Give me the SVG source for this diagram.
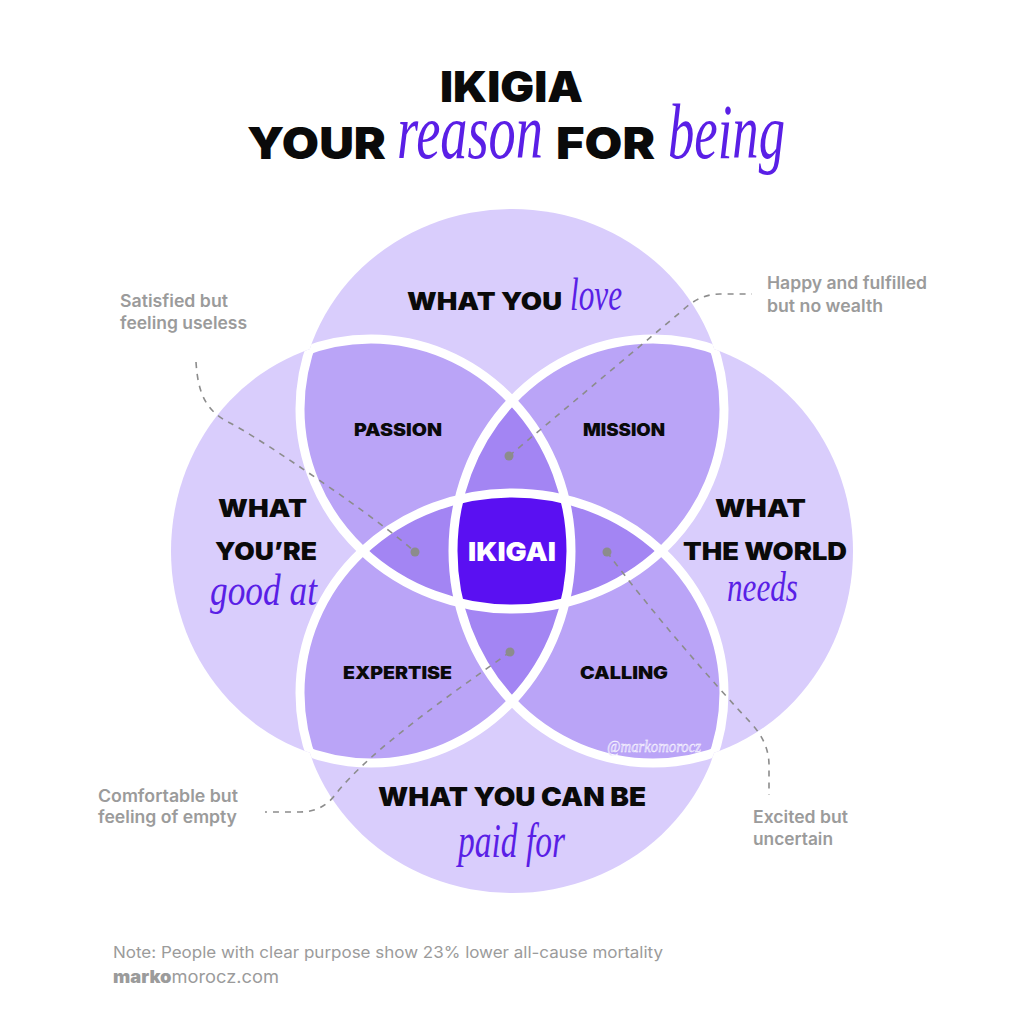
<svg xmlns="http://www.w3.org/2000/svg" width="1024" height="1024" viewBox="0 0 1024 1024">
<defs>
<style>
.h{font-family:Inter,"Liberation Sans",sans-serif;font-weight:900;fill:#0a0a0a}
.s{font-family:"Liberation Serif",serif;font-style:italic;fill:#5a1fe6}
.g{font-family:Inter,"Liberation Sans",sans-serif;font-weight:600;fill:#9b9b9b;font-size:17px}
.c1{fill:#d9cdfc}.c2{fill:#baa4f7}.c3{fill:#a385f3}.c4{fill:#5a10f2}
.w{fill:none;stroke:#fff;stroke-width:9}
.d{fill:none;stroke:#8c8c8c;stroke-width:1.6;stroke-dasharray:6 6}
.dot{fill:#8c8c8c}
</style>
<clipPath id="cT"><ellipse cx="512" cy="409" rx="212" ry="200"/></clipPath>
<clipPath id="cB"><ellipse cx="512" cy="693" rx="212" ry="200"/></clipPath>
<clipPath id="cL"><ellipse cx="371" cy="551" rx="200" ry="212"/></clipPath>
<clipPath id="cR"><ellipse cx="653" cy="551" rx="200" ry="212"/></clipPath>
<clipPath id="xT"><ellipse cx="512" cy="693" rx="212" ry="200"/><ellipse cx="371" cy="551" rx="200" ry="212"/><ellipse cx="653" cy="551" rx="200" ry="212"/></clipPath>
<clipPath id="xB"><ellipse cx="512" cy="409" rx="212" ry="200"/><ellipse cx="371" cy="551" rx="200" ry="212"/><ellipse cx="653" cy="551" rx="200" ry="212"/></clipPath>
<clipPath id="xL"><ellipse cx="512" cy="409" rx="212" ry="200"/><ellipse cx="512" cy="693" rx="212" ry="200"/><ellipse cx="653" cy="551" rx="200" ry="212"/></clipPath>
<clipPath id="xR"><ellipse cx="512" cy="409" rx="212" ry="200"/><ellipse cx="512" cy="693" rx="212" ry="200"/><ellipse cx="371" cy="551" rx="200" ry="212"/></clipPath>
</defs>
<rect width="1024" height="1024" fill="#fff"/>

<g id="title">
<text class="h" x="440" y="102" font-size="42" textLength="143" lengthAdjust="spacingAndGlyphs">IKIGIA</text>
<text class="h" x="247" y="159" font-size="44" textLength="139" lengthAdjust="spacingAndGlyphs">YOUR</text>
<text class="s" x="397" y="158" font-size="78" textLength="146" lengthAdjust="spacingAndGlyphs">reason</text>
<text class="h" x="556" y="159" font-size="44" textLength="99" lengthAdjust="spacingAndGlyphs">FOR</text>
<text class="s" x="668" y="158" font-size="78" textLength="117" lengthAdjust="spacingAndGlyphs">being</text>
</g>

<g id="venn">
<g id="fills1">
<ellipse class="c1" cx="512" cy="409" rx="212" ry="200"/>
<ellipse class="c1" cx="512" cy="693" rx="212" ry="200"/>
<ellipse class="c1" cx="371" cy="551" rx="200" ry="212"/>
<ellipse class="c1" cx="653" cy="551" rx="200" ry="212"/>
</g>
<g id="fills2">
<ellipse class="c2" cx="371" cy="551" rx="200" ry="212" clip-path="url(#cT)"/>
<ellipse class="c2" cx="653" cy="551" rx="200" ry="212" clip-path="url(#cT)"/>
<ellipse class="c2" cx="371" cy="551" rx="200" ry="212" clip-path="url(#cB)"/>
<ellipse class="c2" cx="653" cy="551" rx="200" ry="212" clip-path="url(#cB)"/>
<ellipse class="c2" cx="512" cy="693" rx="212" ry="200" clip-path="url(#cT)"/>
<ellipse class="c2" cx="653" cy="551" rx="200" ry="212" clip-path="url(#cL)"/>
</g>
<g id="fills3">
<g clip-path="url(#cT)"><ellipse class="c3" cx="371" cy="551" rx="200" ry="212" clip-path="url(#cR)"/></g>
<g clip-path="url(#cB)"><ellipse class="c3" cx="371" cy="551" rx="200" ry="212" clip-path="url(#cR)"/></g>
<g clip-path="url(#cT)"><ellipse class="c3" cx="512" cy="693" rx="212" ry="200" clip-path="url(#cL)"/></g>
<g clip-path="url(#cT)"><ellipse class="c3" cx="512" cy="693" rx="212" ry="200" clip-path="url(#cR)"/></g>
</g>
<g id="fill4"><g clip-path="url(#cT)"><g clip-path="url(#cB)"><ellipse class="c4" cx="371" cy="551" rx="200" ry="212" clip-path="url(#cR)"/></g></g></g>
<g id="outlines">
<ellipse class="w" cx="512" cy="409" rx="212" ry="200" clip-path="url(#xT)"/>
<ellipse class="w" cx="512" cy="693" rx="212" ry="200" clip-path="url(#xB)"/>
<ellipse class="w" cx="371" cy="551" rx="200" ry="212" clip-path="url(#xL)"/>
<ellipse class="w" cx="653" cy="551" rx="200" ry="212" clip-path="url(#xR)"/>
</g>
</g>

<g id="connectors">
<path class="d" d="M196,362 C198,394 206,411 230,423 C260,438 380,520 415,552"/>
<path class="d" d="M509,456 L683,310 Q700,294 720,294 L752,294"/>
<path class="d" d="M607,552 C650,610 715,685 750,722 Q769,742 769,765 L769,795"/>
<path class="d" d="M510,652 C450,695 370,750 335,795 Q322,812 300,812 L265,812"/>
<circle class="dot" cx="415" cy="552" r="4.5"/>
<circle class="dot" cx="509" cy="456" r="4.5"/>
<circle class="dot" cx="607" cy="552" r="4.5"/>
<circle class="dot" cx="510" cy="652" r="4.5"/>
</g>

<g id="node-love">
<text class="h" x="407" y="310" font-size="24" textLength="155" lengthAdjust="spacingAndGlyphs">WHAT YOU</text>
<text class="s" x="570" y="310" font-size="46" textLength="52" lengthAdjust="spacingAndGlyphs">love</text>
</g>
<g id="node-good">
<text class="h" x="218" y="517" font-size="24" textLength="89" lengthAdjust="spacingAndGlyphs">WHAT</text>
<text class="h" x="215" y="560" font-size="24" textLength="102" lengthAdjust="spacingAndGlyphs">YOU’RE</text>
<text class="s" x="210" y="605" font-size="44" textLength="107" lengthAdjust="spacingAndGlyphs">good at</text>
</g>
<g id="node-world">
<text class="h" x="715" y="517" font-size="24" textLength="91" lengthAdjust="spacingAndGlyphs">WHAT</text>
<text class="h" x="683" y="560" font-size="24" textLength="164" lengthAdjust="spacingAndGlyphs">THE WORLD</text>
<text class="s" x="727" y="601" font-size="42" textLength="71" lengthAdjust="spacingAndGlyphs">needs</text>
</g>
<g id="node-paid">
<text class="h" x="378" y="806" font-size="26" textLength="268" lengthAdjust="spacingAndGlyphs">WHAT YOU CAN BE</text>
<text class="s" x="458" y="857" font-size="48" textLength="107" lengthAdjust="spacingAndGlyphs">paid for</text>
</g>
<g id="node-passion"><text class="h" x="354" y="436" font-size="17" textLength="88" lengthAdjust="spacingAndGlyphs">PASSION</text></g>
<g id="node-mission"><text class="h" x="583" y="436" font-size="17" textLength="82" lengthAdjust="spacingAndGlyphs">MISSION</text></g>
<g id="node-expertise"><text class="h" x="343" y="679" font-size="17" textLength="109" lengthAdjust="spacingAndGlyphs">EXPERTISE</text></g>
<g id="node-calling"><text class="h" x="580" y="679" font-size="17" textLength="88" lengthAdjust="spacingAndGlyphs">CALLING</text></g>
<g id="node-ikigai"><text class="h" x="468" y="561" font-size="26" textLength="88" lengthAdjust="spacingAndGlyphs" style="fill:#fff">IKIGAI</text></g>

<text x="607" y="752" font-family="Liberation Serif,serif" font-style="italic" font-size="17" fill="#d3c5fb" stroke="#fff" stroke-width="0.4" textLength="94" lengthAdjust="spacingAndGlyphs">@markomorocz</text>

<g id="notes">
<text class="g" x="120" y="307" textLength="108" lengthAdjust="spacingAndGlyphs">Satisfied but</text>
<text class="g" x="120" y="329" textLength="127" lengthAdjust="spacingAndGlyphs">feeling useless</text>
<text class="g" x="767" y="289" textLength="160" lengthAdjust="spacingAndGlyphs">Happy and fulfilled</text>
<text class="g" x="767" y="312" textLength="116" lengthAdjust="spacingAndGlyphs">but no wealth</text>
<text class="g" x="98" y="802" textLength="140" lengthAdjust="spacingAndGlyphs">Comfortable but</text>
<text class="g" x="98" y="823" textLength="139" lengthAdjust="spacingAndGlyphs">feeling of empty</text>
<text class="g" x="753" y="823" textLength="95" lengthAdjust="spacingAndGlyphs">Excited but</text>
<text class="g" x="753" y="845" textLength="80" lengthAdjust="spacingAndGlyphs">uncertain</text>
</g>

<g id="footer" font-family="Inter,'Liberation Sans',sans-serif" fill="#9b9b9b" font-size="17">
<text x="113" y="958" font-size="16" textLength="550" lengthAdjust="spacingAndGlyphs">Note: People with clear purpose show 23% lower all-cause mortality</text>
<text x="113" y="983" textLength="166" lengthAdjust="spacingAndGlyphs"><tspan font-weight="900">marko</tspan><tspan>morocz.com</tspan></text>
</g>
</svg>
